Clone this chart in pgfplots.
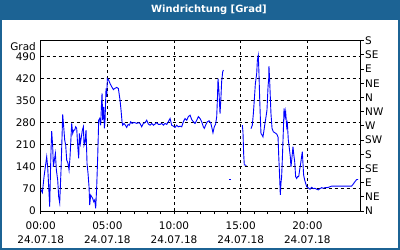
\documentclass[border=0pt]{standalone}
\usepackage{pgfplots}
\pgfplotsset{compat=1.18}
\usepackage{fontspec}
\setmainfont{DejaVu Sans}
\definecolor{band}{RGB}{28,99,148}
\begin{document}
\begin{tikzpicture}[x=1bp,y=1bp]
\useasboundingbox (0,0) rectangle (400,250);
\fill[white] (0,0) rectangle (400,250);
\fill[band] (0,230) rectangle (400,250);
\fill[band] (0,0) rectangle (2,250);
\fill[band] (398,0) rectangle (400,250);
\fill[band] (0,0) rectangle (400,2);
\node[text=white, font=\bfseries\fontsize{10}{12}\selectfont] at (209,240) {Windrichtung [Grad]};
\begin{axis}[
  at={(40.7bp,39bp)}, anchor=south west,
  scale only axis, width=320bp, height=170.3bp,
  xmin=0, xmax=24, ymin=0, ymax=540,
  clip mode=individual,
  /pgf/number format/assume math mode=true,
  axis line style={black, line width=1bp},
  xtick={0,5,10,15,20},
  xticklabels={{00:00\\24.07.18},{05:00\\24.07.18},{10:00\\24.07.18},{15:00\\24.07.18},{20:00\\24.07.18}},
  minor x tick num=4,
  xtick pos=left,
  tick align=outside,
  major tick length=3bp, minor tick length=3bp,
  every tick/.style={black, line width=1bp},
  ytick={0,70,...,490},
  ytick pos=left,
  ytick style={draw=none},
  xmajorgrids, ymajorgrids,
  major grid style={black, line width=1bp, dash pattern=on 3bp off 3bp},
  tick label style={font=\fontsize{10.5}{14}\selectfont},
  yticklabel style={inner sep=0pt, anchor=east, xshift=-1.7bp},
  xticklabel style={align=center, inner sep=0pt, anchor=north, yshift=-7.7bp},
]
\addplot[blue, line width=0.9bp, mark=none] coordinates {
(0.00,68.6) (0.125,58) (0.25,108.7) (0.35,140.4) (0.45,172) (0.525,138) (0.625,56) (0.675,13.7)
(0.725,108.7) (0.775,193) (0.825,253) (0.9,204) (0.95,140) (1.025,161.5) (1.1,182.7) (1.175,130)
(1.275,98) (1.35,45) (1.425,26) (1.525,130) (1.6,235) (1.65,306) (1.725,267) (1.8,225) (1.875,209)
(1.95,161.5) (2.05,151) (2.125,130) (2.2,172) (2.275,235) (2.325,278) (2.4,246) (2.475,256.5)
(2.55,256.5) (2.625,267) (2.7,262) (2.75,225) (2.8,193) (2.85,167) (2.9,246) (2.975,214) (3.05,235)
(3.125,256.5) (3.2,267) (3.25,209) (3.325,219.6) (3.4,256.5) (3.475,151) (3.55,119) (3.625,77)
(3.675,19) (3.75,50.7) (3.825,45) (3.9,40) (3.975,29.6) (4.05,34.8) (4.125,8.4) (4.2,77) (4.275,172)
(4.35,288) (4.425,293.5) (4.5,272) (4.55,330) (4.6,372.7) (4.65,288) (4.725,330) (4.775,262)
(4.825,288) (4.9,388.5) (4.95,362) (5.0,420) (5.1,415) (5.2,404) (5.325,394) (5.45,385) (5.55,388.5)
(5.7,392) (5.825,388.5) (5.95,351.6) (6.025,320) (6.1,283) (6.15,272) (6.25,277.7) (6.35,272)
(6.45,265) (6.55,274.5) (6.65,272) (6.75,283) (6.85,277.7) (6.95,280) (7.075,280) (7.2,277.7)
(7.325,280) (7.45,277.7) (7.575,267) (7.7,277.7) (7.825,280) (7.95,288) (8.075,275.6) (8.2,272)
(8.325,277.7) (8.45,272) (8.575,275.6) (8.7,280) (8.825,274.5) (8.95,274.5) (9.075,277.7) (9.2,272)
(9.325,277.7) (9.45,274.5) (9.575,283) (9.7,293.5) (9.825,272) (9.95,269) (10.075,265) (10.2,272)
(10.325,267) (10.45,269) (10.575,267) (10.7,283) (10.825,293.5) (10.95,288) (11.075,299) (11.2,304)
(11.325,290) (11.45,283) (11.575,277.7) (11.7,288) (11.825,299) (11.95,293.5) (12.07,283) (12.2,267)
(12.27,262) (12.37,272) (12.5,283) (12.62,286) (12.75,280) (12.85,262) (12.92,248) (13.02,267)
(13.12,275.6) (13.2,299) (13.25,351.6) (13.3,420) (13.37,378) (13.45,309) (13.52,362) (13.57,410)
(13.65,441) (13.7,447)
};
\addplot[blue, line width=0.9bp, mark=none] coordinates {(14.12,100) (14.25,100)};
\addplot[blue, line width=0.9bp, mark=none] coordinates {(15.12,272) (15.17,251) (15.22,183) (15.27,146) (15.35,146) (15.42,144)};
\addplot[blue, line width=0.9bp, mark=none] coordinates {
(15.77,261) (15.87,272) (15.95,309) (16.02,352) (16.1,404) (16.2,436) (16.25,478) (16.32,494)
(16.37,436) (16.42,362) (16.47,299) (16.52,246) (16.6,241) (16.67,235) (16.75,257) (16.82,278)
(16.9,299) (16.97,320) (17.05,394) (17.1,420) (17.12,459) (17.17,415) (17.22,362) (17.27,309)
(17.35,262) (17.45,251) (17.57,248) (17.7,244) (17.8,235) (17.85,177) (17.92,109) (17.97,51)
(18.02,88) (18.07,109) (18.12,162) (18.2,257) (18.25,325) (18.32,299) (18.37,315) (18.45,267)
(18.5,278) (18.57,225) (18.65,198) (18.72,172) (18.77,140) (18.85,172) (18.92,204) (18.97,183)
(19.05,156) (19.12,109) (19.2,103) (19.27,109) (19.35,109) (19.42,130) (19.5,151) (19.55,167)
(19.62,188) (19.67,151) (19.72,114) (19.8,98) (19.87,88) (19.95,77) (20.05,74) (20.2,69) (20.32,75)
(20.45,71) (20.57,72) (20.7,69) (20.82,67) (20.95,71) (21.07,74) (21.2,72) (21.32,74) (21.45,74)
(21.57,75) (21.7,77) (21.82,79) (21.95,79) (22.45,79) (22.95,79) (23.32,79) (23.45,86) (23.57,93)
(23.7,100) (23.8,100)
};
\node[anchor=base east, inner sep=0pt, font=\fontsize{10.5}{14}\selectfont] at ([xshift=-4.7bp,yshift=-9.3bp]rel axis cs:0,1) {Grad};
\end{axis}
\begin{axis}[
  at={(40.7bp,39bp)}, anchor=south west,
  scale only axis, width=320bp, height=170.3bp,
  xmin=0, xmax=24, ymin=0, ymax=540,
  axis y line*=right, axis x line=none,
  axis line style={black, line width=1bp},
  ytick={0,45,...,540},
  yticklabels={N,NE,E,SE,S,SW,W,NW,N,NE,E,SE,S},
  tick align=outside,
  major tick length=3bp,
  every tick/.style={black, line width=1bp},
  tick label style={font=\fontsize{10.5}{14}\selectfont},
  yticklabel style={inner sep=0pt, anchor=west, xshift=1.3bp},
]
\end{axis}
\end{tikzpicture}
\end{document}
